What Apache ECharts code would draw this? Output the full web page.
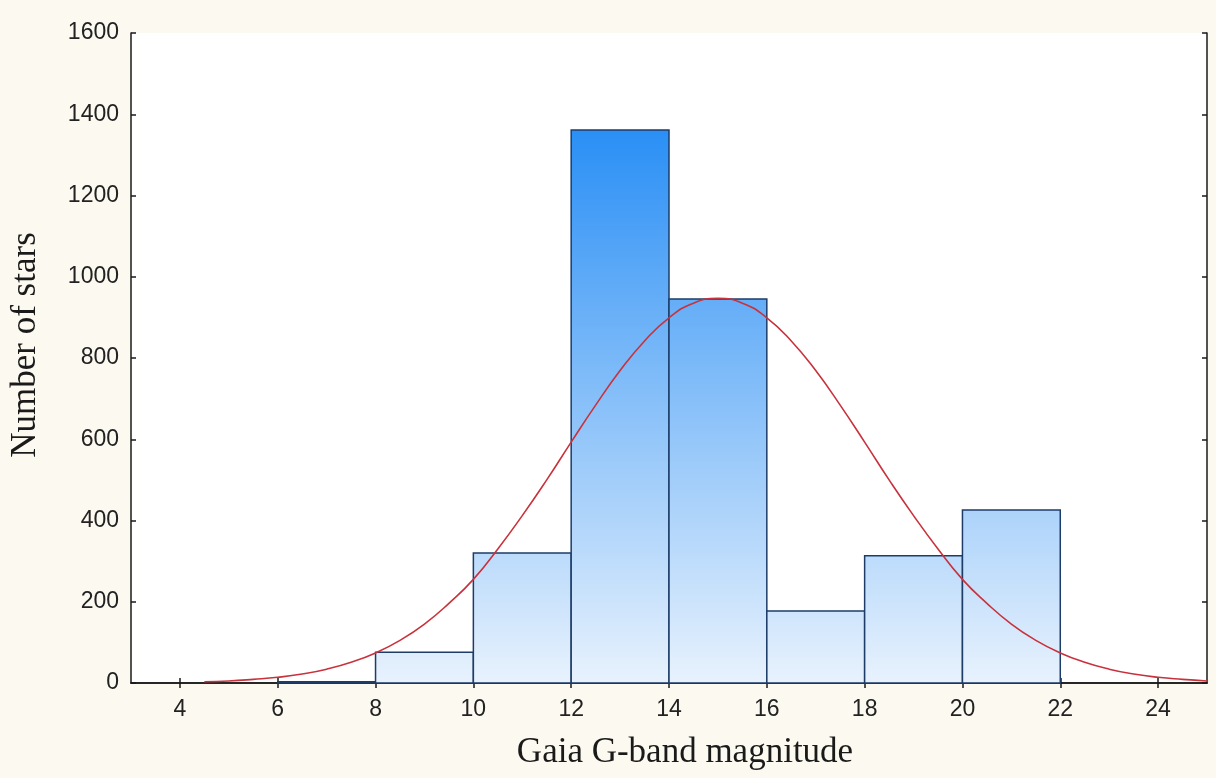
<!doctype html>
<html>
<head>
<meta charset="utf-8">
<script src="https://cdn.jsdelivr.net/npm/echarts@6.0.0/dist/echarts.min.js"></script>
<style>
  html, body { margin: 0; padding: 0; background: #fcf9f0; }
  #main { width: 1216px; height: 778px; }
</style>
</head>
<body>
<div id="main"></div>
<script>
// histogram bins (lower edge, upper edge) and star counts
var binStart = [6, 8, 10, 12, 14, 16, 18, 20];
var binEnd   = [8, 10, 12, 14, 16, 18, 20, 22];
var counts   = [3, 76, 320, 1361, 945, 177, 313, 426];

// fitted normal curve
var curveX = [4.5, 5, 5.5, 6, 6.5, 7, 7.5, 8, 8.5, 9, 9.5, 10, 10.5, 11, 11.5, 12, 12.5, 13, 13.5, 14, 14.5,
              15, 15.5, 16, 16.5, 17, 17.5, 18, 18.5, 19, 19.5, 20, 20.5, 21, 21.5, 22, 22.5, 23, 23.5, 24, 24.5, 25];
var curveY = [3, 5, 9, 14, 22, 34, 51, 74, 105, 145, 196, 255, 330, 412, 500, 593, 684, 769, 842, 899, 935,
              947, 935, 899, 842, 769, 684, 593, 500, 412, 330, 255, 196, 145, 105, 74, 51, 34, 22, 14, 9, 5];

var xTicks = [4, 6, 8, 10, 12, 14, 16, 18, 20, 22, 24];

var binData = binStart.map(function (s, i) { return [s, binEnd[i], counts[i]]; });
var curveData = curveX.map(function (x, i) { return [x, curveY[i]]; });
var maxCount = Math.max.apply(null, counts);

var chart = echarts.init(document.getElementById('main'));

var axisLine = { show: true, lineStyle: { color: '#1a1a1a', width: 1.5 } };
var tickStyle = { show: true, inside: true, length: 5, lineStyle: { color: '#1a1a1a', width: 1.5 } };

var option = {
  backgroundColor: '#fcf9f0',
  animation: false,
  grid: { left: 130, right: 9, top: 33, bottom: 95, show: true, backgroundColor: '#ffffff', borderWidth: 0 },
  xAxis: [
    {
      type: 'value', min: 3, max: 25, position: 'bottom',
      axisLine: axisLine,
      axisTick: Object.assign({ customValues: xTicks }, tickStyle),
      axisLabel: { customValues: xTicks, color: '#222', fontSize: 23, fontFamily: 'Liberation Sans', margin: 15 },
      splitLine: { show: false },
      name: 'Gaia G-band magnitude', nameLocation: 'middle', nameGap: 52,
      nameTextStyle: { fontFamily: 'Liberation Serif', fontSize: 35, color: '#1a1a1a', padding: [0, 0, 0, 32] }
    },
    {
      type: 'value', min: 3, max: 25, position: 'top',
      axisLine: axisLine,
      axisTick: Object.assign({ customValues: xTicks }, tickStyle),
      axisLabel: { show: false },
      splitLine: { show: false }
    }
  ],
  yAxis: [
    {
      type: 'value', min: 0, max: 1600, interval: 200, position: 'left',
      axisLine: axisLine,
      axisTick: tickStyle,
      axisLabel: {
        color: '#222', fontSize: 23, fontFamily: 'Liberation Sans', margin: 12,
        formatter: function (v) { return String(v); }
      },
      splitLine: { show: false },
      name: 'Number of stars', nameLocation: 'middle', nameGap: 88, nameRotate: 90,
      nameTextStyle: { fontFamily: 'Liberation Serif', fontSize: 35, color: '#1a1a1a', padding: [0, 0, 0, 26] }
    },
    {
      type: 'value', min: 0, max: 1600, interval: 200, position: 'right',
      axisLine: axisLine,
      axisTick: tickStyle,
      axisLabel: { show: false },
      splitLine: { show: false }
    }
  ],
  series: [
    {
      type: 'custom',
      xAxisIndex: 0, yAxisIndex: 0,
      data: binData,
      encode: { x: [0, 1], y: 2 },
      renderItem: function (params, api) {
        var p0 = api.coord([api.value(0), api.value(2)]);
        var p1 = api.coord([api.value(1), 0]);
        var yTop = api.coord([0, maxCount])[1];
        return {
          type: 'rect',
          shape: { x: p0[0], y: p0[1], width: p1[0] - p0[0], height: p1[1] - p0[1] },
          style: {
            fill: new echarts.graphic.LinearGradient(0, yTop, 0, p1[1], [
              { offset: 0, color: '#2a8ff5' },
              { offset: 1, color: '#e8f2fd' }
            ], true),
            stroke: '#1d3c68',
            lineWidth: 1.5
          }
        };
      },
      z: 2
    },
    {
      type: 'line',
      data: curveData,
      smooth: true,
      symbol: 'none',
      lineStyle: { color: '#c8323c', width: 1.6 },
      z: 3
    }
  ]
};

chart.setOption(option);
</script>
</body>
</html>
